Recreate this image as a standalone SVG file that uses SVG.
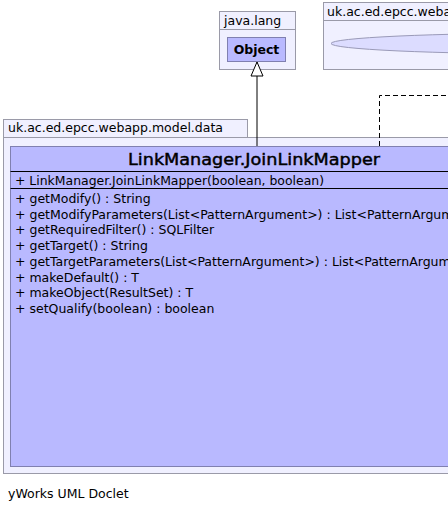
<svg xmlns="http://www.w3.org/2000/svg" width="448" height="512" viewBox="0 0 448 512">
<defs>
<style>
.pkg{fill:#f0f0ff;stroke:#9a9aa8;stroke-width:1}
.cls{fill:#b9b9ff;stroke:#8080b0;stroke-width:1}
.t{font-family:"DejaVu Sans",Verdana,sans-serif;fill:#000}
.m{font-size:12.5px}
.line{stroke:#000;stroke-width:1;fill:none}
</style>
<marker id="gen" viewBox="0 0 16 14" refX="15" refY="7" markerWidth="16" markerHeight="14" markerUnits="userSpaceOnUse" orient="auto">
<path d="M1,1 L15,7 L1,13 Z" fill="#fff" stroke="#000" stroke-width="1"/>
</marker>
</defs>
<rect width="448" height="512" fill="#fff"/>
<g id="pkg-java-lang">
<rect class="pkg" x="219.5" y="11.5" width="76" height="18"/>
<rect class="pkg" x="219.5" y="29.5" width="76" height="40"/>
<text class="t m" x="224" y="25">java.lang</text>
</g>
<g id="Object">
<rect class="cls" x="227.5" y="37.5" width="58" height="24"/>
<text class="t" x="256.5" y="54" font-size="12.5" font-weight="bold" text-anchor="middle">Object</text>
</g>
<g id="pkg-webapp">
<rect class="pkg" x="323.5" y="2.5" width="140" height="18"/>
<rect class="pkg" x="323.5" y="20.5" width="140" height="49"/>
<text class="t m" x="327" y="16">uk.ac.ed.epcc.webapp</text>
<ellipse cx="560" cy="43.5" rx="229" ry="10.5" fill="#dcdcff" stroke="#9a9ab8" stroke-width="1"/>
</g>
<g id="pkg-model-data">
<rect class="pkg" x="3.5" y="119.5" width="244" height="18"/>
<rect class="pkg" x="3.5" y="137.5" width="470" height="336"/>
<text class="t m" x="8" y="132">uk.ac.ed.epcc.webapp.model.data</text>
</g>
<g id="LinkManager.JoinLinkMapper">
<rect class="cls" x="10.5" y="146.5" width="490" height="320"/>
<line x1="10.5" y1="171.5" x2="500" y2="171.5" stroke="#000" stroke-width="1"/>
<line x1="10.5" y1="188.5" x2="500" y2="188.5" stroke="#000" stroke-width="1"/>
<text class="t" x="254" y="165" font-size="16" text-anchor="middle" stroke="#000" stroke-width="0.45" textLength="252" lengthAdjust="spacingAndGlyphs">LinkManager.JoinLinkMapper</text>
<text class="t m" x="15" y="185" textLength="309" lengthAdjust="spacingAndGlyphs">+ LinkManager.JoinLinkMapper(boolean, boolean)</text>
<text class="t m" x="15" y="203">+ getModify() : String</text>
<text class="t m" x="15" y="218.7">+ getModifyParameters(List&lt;PatternArgument&gt;) : List&lt;PatternArgument&gt;</text>
<text class="t m" x="15" y="234.4">+ getRequiredFilter() : SQLFilter</text>
<text class="t m" x="15" y="250.1">+ getTarget() : String</text>
<text class="t m" x="15" y="265.8">+ getTargetParameters(List&lt;PatternArgument&gt;) : List&lt;PatternArgument&gt;</text>
<text class="t m" x="15" y="281.5">+ makeDefault() : T</text>
<text class="t m" x="15" y="297.2">+ makeObject(ResultSet) : T</text>
<text class="t m" x="15" y="313">+ setQualify(boolean) : boolean</text>
</g>
<g id="connectors">
<path class="line" d="M257,146 L257,62" marker-end="url(#gen)"/>
<path class="line" d="M379.5,146 L379.5,95.5 L448,95.5" stroke-dasharray="5,3"/>
</g>
<text class="t m" x="8" y="498">yWorks UML Doclet</text>
</svg>
